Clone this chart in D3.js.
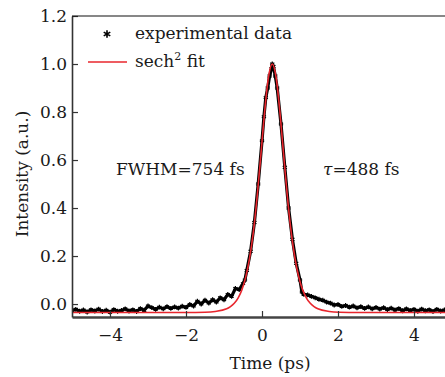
<!DOCTYPE html>
<html>
<head>
<meta charset="utf-8">
<script src="https://cdn.jsdelivr.net/npm/d3@7"></script>
<style>
  body { margin: 0; background: #fff; }
  svg text { font-family: "DejaVu Serif", serif; fill: #1a1a1a; }
</style>
</head>
<body>
<div id="chart"></div>
<script>
// measured autocorrelation trace (time in ps, intensity a.u.)
const expTime = [-5.0,-4.9,-4.8,-4.7,-4.6,-4.5,-4.4,-4.3,-4.2,-4.1,-4.0,-3.9,-3.8,-3.7,-3.6,-3.5,-3.4,-3.3,-3.2,-3.1,
  -3.0,-2.9,-2.8,-2.7,-2.6,-2.5,-2.4,-2.3,-2.2,-2.1,-2.0,-1.9,-1.8,-1.7,-1.6,-1.5,-1.4,-1.3,-1.2,-1.1,
  -1.0,-0.9,-0.8,-0.7,-0.6,-0.5,-0.45,-0.4,-0.3,-0.2,-0.1,0.0,0.05,0.1,0.15,0.2,0.25,0.27,0.3,0.35,0.4,
  0.5,0.6,0.7,0.8,0.9,1.0,1.05,1.1,1.2,1.3,1.4,1.5,1.6,1.7,1.8,1.9,2.0,2.1,2.2,2.3,2.4,2.5,2.6,2.7,2.8,2.9,
  3.0,3.1,3.2,3.3,3.4,3.5,3.6,3.7,3.8,3.9,4.0,4.1,4.2,4.3,4.4,4.5,4.6,4.7,4.8,4.9,5.0]
const expIntensity = [-0.028,-0.022,-0.030,-0.025,-0.033,-0.024,-0.029,-0.021,-0.031,-0.026,-0.034,-0.023,-0.030,-0.027,-0.020,-0.029,-0.024,-0.031,-0.019,-0.026,
  -0.008,-0.015,-0.022,-0.013,-0.020,-0.011,-0.018,-0.012,-0.017,-0.009,-0.014,-0.002,-0.008,0.012,0.000,0.016,0.004,0.018,0.008,0.026,
  0.018,0.040,0.032,0.065,0.060,0.085,0.10,0.14,0.22,0.34,0.50,0.68,0.78,0.86,0.90,0.95,0.98,1.0,0.99,0.95,0.90,
  0.75,0.57,0.40,0.27,0.17,0.10,0.05,0.040,0.038,0.032,0.026,0.020,0.016,0.008,0.004,-0.004,-0.002,-0.010,-0.006,-0.013,-0.008,-0.016,-0.011,-0.018,-0.012,-0.020,
  -0.014,-0.021,-0.015,-0.023,-0.017,-0.025,-0.019,-0.028,-0.020,-0.027,-0.022,-0.030,-0.021,-0.028,-0.024,-0.031,-0.022,-0.029,-0.025,-0.032,-0.024]

// sech^2 fit
const fitTime = [-5.0,-2.0,-1.5,-1.23,-0.93,-0.83,-0.73,-0.63,-0.53,-0.43,-0.33,-0.23,-0.13,-0.03,0.07,0.17,0.27,
  0.37,0.47,0.57,0.67,0.77,0.87,0.97,1.07,1.17,1.27,1.37,1.47,1.77,2.04,2.54,5.0]
const fitIntensity = [-0.035,-0.035,-0.034,-0.031,-0.020,-0.011,0.003,0.025,0.059,0.111,0.188,0.297,0.444,0.621,0.802,0.945,1.0,
  0.945,0.802,0.621,0.444,0.297,0.188,0.111,0.059,0.025,0.003,-0.011,-0.020,-0.031,-0.034,-0.035,-0.035]

const xTicks = [-4, -2, 0, 2, 4]
const yTicks = [0.0, 0.2, 0.4, 0.6, 0.8, 1.0, 1.2]

const W = 445, H = 377
const margin = {top: 16, left: 72, bottom: 317}

const svg = d3.select("#chart").append("svg")
    .attr("width", W)
    .attr("height", H)

const x = d3.scaleLinear().domain([-5, 5]).range([margin.left, 452])
const y = d3.scaleLinear().domain([-0.054, 1.2]).range([margin.bottom, margin.top])

svg.append("defs").append("clipPath").attr("id", "clip")
    .append("rect")
    .attr("x", margin.left).attr("y", margin.top)
    .attr("width", W - margin.left).attr("height", margin.bottom - margin.top)

const plot = svg.append("g").attr("clip-path", "url(#clip)")

const expPts = expTime.map((t, i) => [t, expIntensity[i]])
const fitPts = fitTime.map((t, i) => [t, fitIntensity[i]])

// experimental data: thick noisy band plus asterisk markers
plot.append("path")
    .datum(expPts)
    .attr("fill", "none")
    .attr("stroke", "#000")
    .attr("stroke-width", 3.2)
    .attr("stroke-linejoin", "round")
    .attr("d", d3.line().x(d => x(d[0])).y(d => y(d[1])))

let star = d3.symbolAsterisk || d3.symbolCross
let markerPath = d3.symbol().type(star).size(16)()
plot.selectAll(".mk")
    .data(expPts)
    .join("path")
    .attr("class", "mk")
    .attr("d", markerPath)
    .attr("transform", d => `translate(${x(d[0])},${y(d[1])})`)
    .attr("fill", "#000")
    .attr("stroke", "#000")
    .attr("stroke-width", 1.2)

// fit curve
plot.append("path")
    .datum(fitPts)
    .attr("fill", "none")
    .attr("stroke", "#e8262d")
    .attr("stroke-width", 1.6)
    .attr("d", d3.line().curve(d3.curveMonotoneX).x(d => x(d[0])).y(d => y(d[1])))

// axes (ticks point inward)
const xAxis = svg.append("g")
    .attr("transform", `translate(0,${margin.bottom})`)
    .call(d3.axisBottom(x).tickValues(xTicks).tickSizeInner(-6).tickSizeOuter(0)
        .tickPadding(12).tickFormat(d => d < 0 ? "\u2212" + Math.abs(d) : d))
xAxis.select(".domain").attr("stroke", "#444").attr("stroke-width", 2.4)
xAxis.selectAll(".tick line").attr("stroke", "#333").attr("stroke-width", 1.2)
xAxis.selectAll("text").attr("font-size", 17).attr("fill", "#1a1a1a")
    .attr("font-family", "DejaVu Serif")

const yAxis = svg.append("g")
    .attr("transform", `translate(${margin.left},0)`)
    .call(d3.axisLeft(y).tickValues(yTicks).tickSizeInner(-6).tickSizeOuter(0)
        .tickPadding(5).tickFormat(d3.format(".1f")))
yAxis.select(".domain").attr("stroke", "#333").attr("stroke-width", 1.6)
yAxis.selectAll(".tick line").attr("stroke", "#333").attr("stroke-width", 1.2)
yAxis.selectAll("text").attr("font-size", 17).attr("fill", "#1a1a1a")
    .attr("font-family", "DejaVu Serif")

// top frame line
svg.append("line")
    .attr("x1", margin.left).attr("x2", W)
    .attr("y1", margin.top).attr("y2", margin.top)
    .attr("stroke", "#111").attr("stroke-width", 1.2)

// axis titles
svg.append("text")
    .attr("x", 270).attr("y", 369)
    .attr("text-anchor", "middle")
    .attr("font-size", 17)
    .text("Time (ps)")

svg.append("text")
    .attr("transform", "translate(28,174) rotate(-90)")
    .attr("text-anchor", "middle")
    .attr("font-size", 17)
    .text("Intensity (a.u.)")

// legend
svg.append("path")
    .attr("d", d3.symbol().type(star).size(40)())
    .attr("transform", "translate(107,34)")
    .attr("fill", "#000").attr("stroke", "#000").attr("stroke-width", 1.6)
svg.append("text").attr("x", 135).attr("y", 39).attr("font-size", 17)
    .text("experimental data")

svg.append("line")
    .attr("x1", 88).attr("x2", 127).attr("y1", 62).attr("y2", 62)
    .attr("stroke", "#e8262d").attr("stroke-width", 1.6)
let fitLabel = svg.append("text").attr("x", 135).attr("y", 67).attr("font-size", 17)
fitLabel.append("tspan").text("sech")
fitLabel.append("tspan").attr("font-size", 11).attr("dy", -7).text("2")
fitLabel.append("tspan").attr("dy", 7).text(" fit")

// annotations
svg.append("text").attr("x", 116).attr("y", 175).attr("font-size", 17)
    .text("FWHM=754 fs")
let tau = svg.append("text").attr("x", 323).attr("y", 175).attr("font-size", 17)
tau.append("tspan").attr("font-style", "italic").text("\u03c4")
tau.append("tspan").text("=488 fs")
</script>
</body>
</html>
